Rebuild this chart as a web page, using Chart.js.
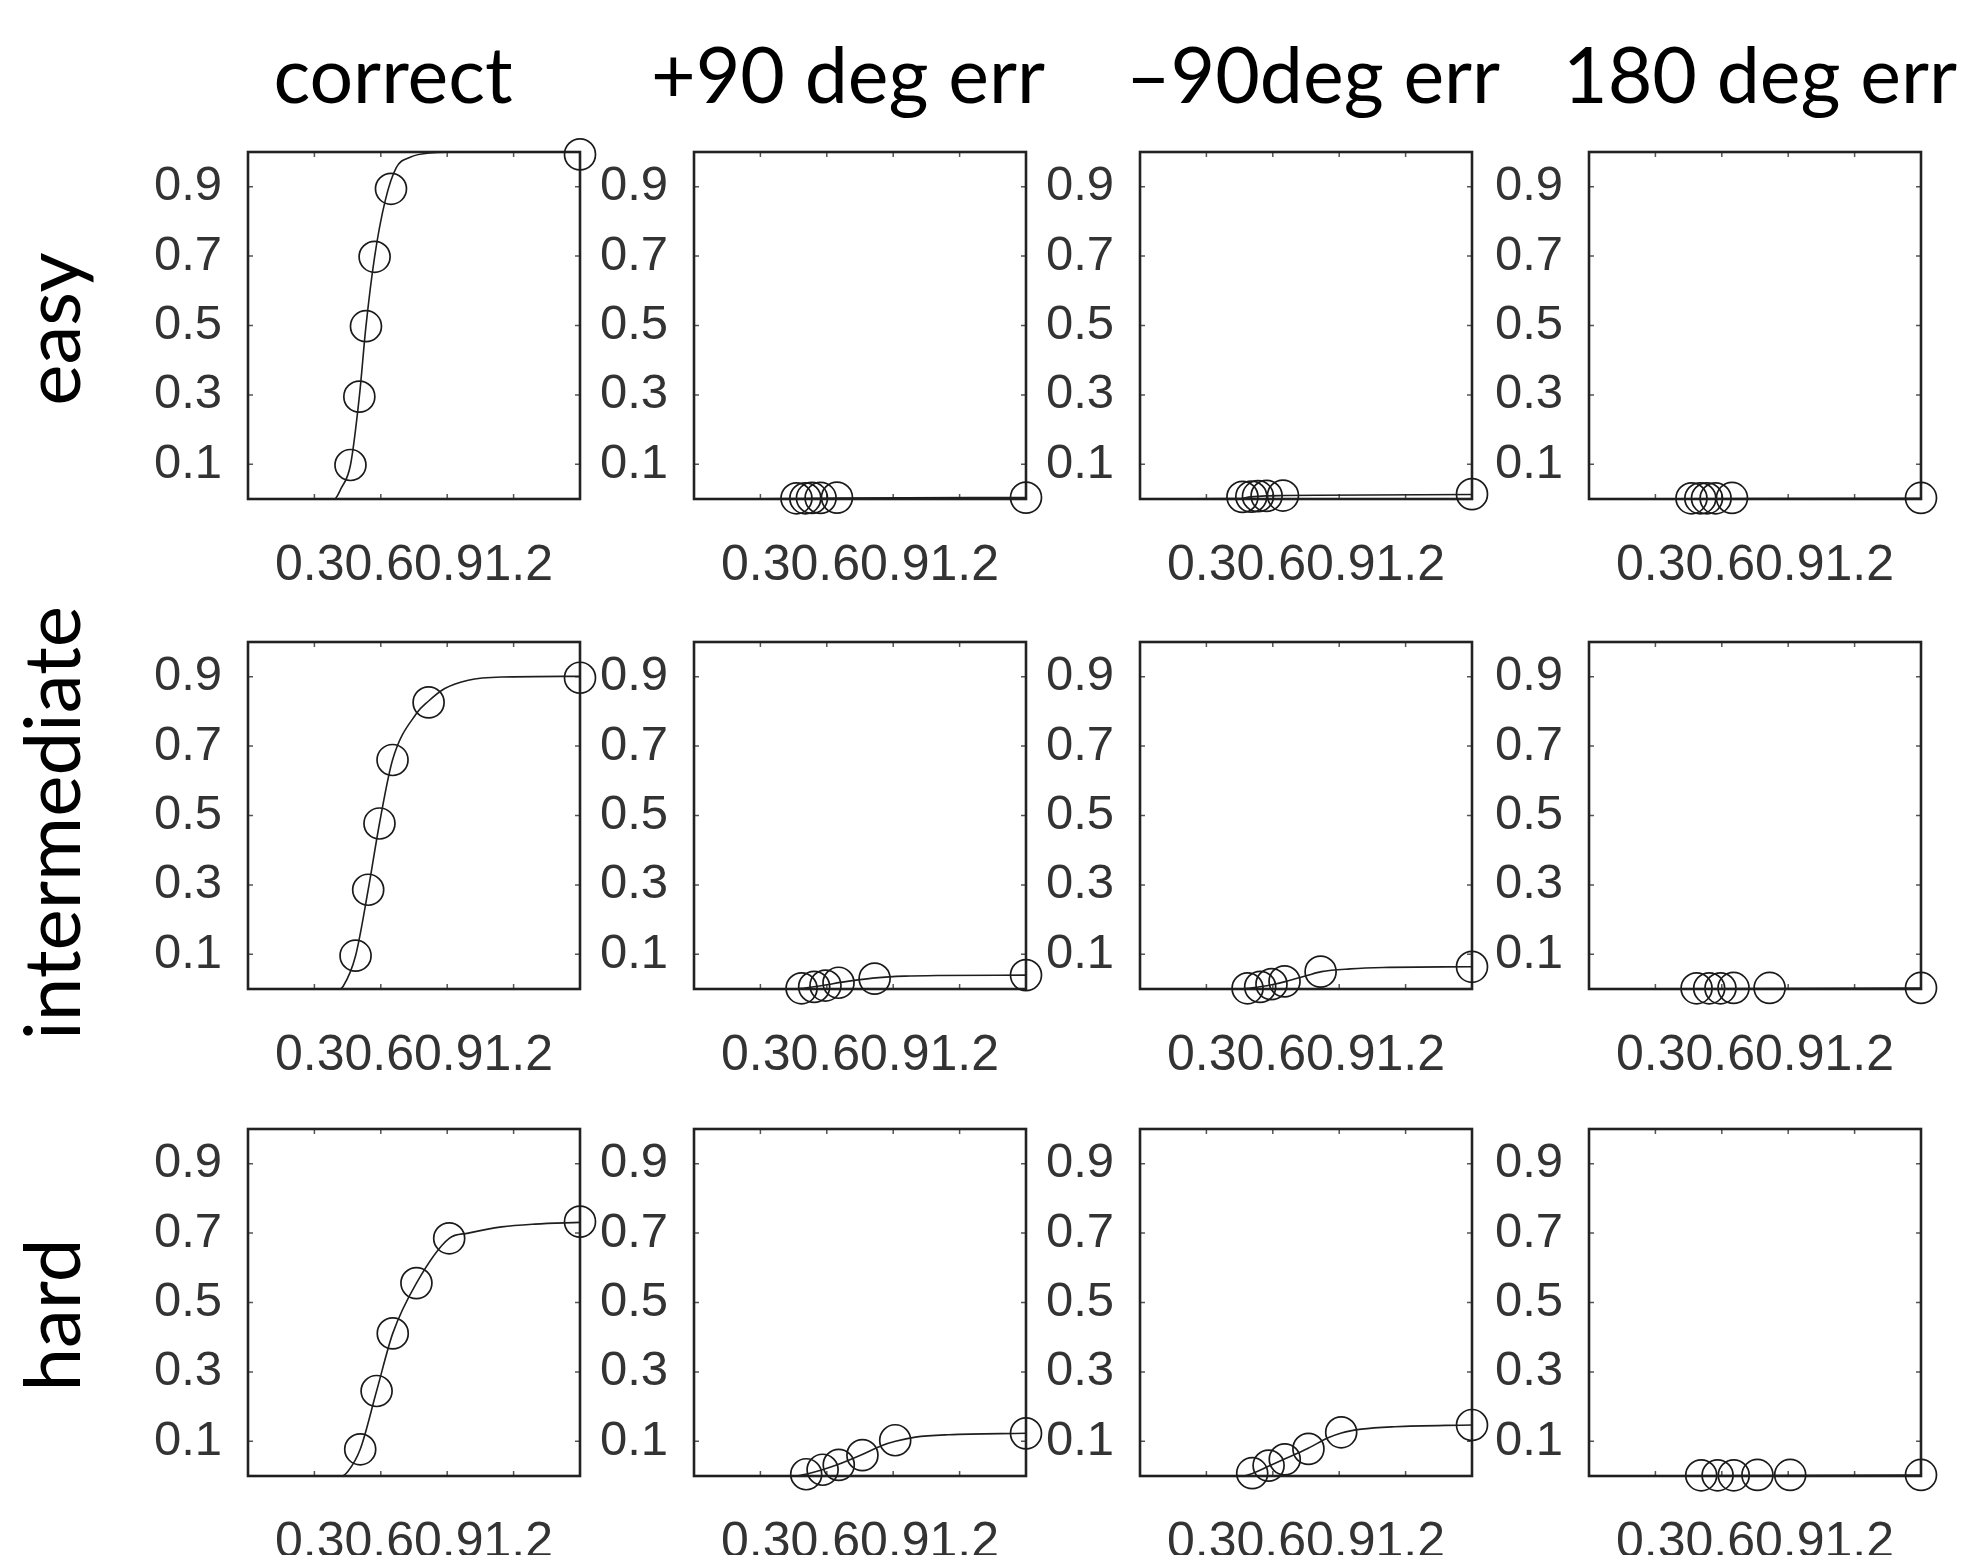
<!DOCTYPE html>
<html>
<head>
<meta charset="utf-8">
<script src="https://cdn.jsdelivr.net/npm/chart.js@4.4.1/dist/chart.umd.min.js"></script>
<style>
  body { margin: 0; background: #fff; }
  #page { position: relative; width: 1967px; height: 1555px; overflow: hidden; background: #fff; }
  .colTitle { position: absolute; width: 600px; text-align: center; white-space: nowrap;
    font-family: Lato, "Open Sans", sans-serif; font-size: 77px; line-height: 77px; color: #000; }
  .rowLabel { position: absolute; width: 600px; text-align: center; white-space: nowrap;
    font-family: Lato, "Open Sans", sans-serif; font-size: 78px; line-height: 78px; color: #000;
    transform: translate(-50%, -50%) rotate(-90deg); }
  canvas { position: absolute; }
</style>
</head>
<body>
<div id="page"></div>
<script>
// labels
const columnTitles = ['correct', '+90 deg err', '\u201390deg err', '180 deg err'];
const rowLabels = ['easy', 'intermediate', 'hard'];
const yTicks = [0.1, 0.3, 0.5, 0.7, 0.9];
const yTickLabels = ['0.1', '0.3', '0.5', '0.7', '0.9'];
const xTicks = [0.3, 0.6, 0.9, 1.2];
const xTickLabels = ['0.3', '0.6', '0.9', '1.2'];

// stimulus levels (same in every column of a row)
const easyX = [0.463, 0.503, 0.533, 0.572, 0.646, 1.5];
const intermediateX = [0.486, 0.543, 0.594, 0.653, 0.816, 1.5];
const hardX = [0.507, 0.581, 0.654, 0.761, 0.909, 1.5];

// observed proportions
const easyCorrect = [0.098, 0.295, 0.498, 0.698, 0.894, 0.993];
const easyPlus90 = [0.002, 0.002, 0.003, 0.003, 0.004, 0.004];
const easyMinus90 = [0.006, 0.007, 0.008, 0.009, 0.010, 0.014];
const easy180 = [0.002, 0.002, 0.002, 0.002, 0.003, 0.003];

const intermediateCorrect = [0.096, 0.286, 0.477, 0.660, 0.826, 0.897];
const intermediatePlus90 = [0.002, 0.006, 0.010, 0.018, 0.030, 0.040];
const intermediateMinus90 = [0.002, 0.006, 0.014, 0.022, 0.050, 0.064];
const intermediate180 = [0.002, 0.002, 0.002, 0.003, 0.003, 0.003];

const hardCorrect = [0.077, 0.245, 0.411, 0.556, 0.685, 0.733];
const hardPlus90 = [0.005, 0.018, 0.032, 0.060, 0.103, 0.123];
const hardMinus90 = [0.008, 0.030, 0.048, 0.078, 0.126, 0.147];
const hard180 = [0.002, 0.002, 0.002, 0.003, 0.003, 0.003];

// fitted curves
const easyCorrectFitX = [0, 0.39, 0.42, 0.463, 0.503, 0.533, 0.572, 0.62, 0.67, 0.73, 0.82, 1.0, 1.5];
const easyCorrectFitY = [0, 0, 0.03, 0.098, 0.295, 0.498, 0.698, 0.86, 0.955, 0.984, 0.997, 1.0, 1.0];
const easyPlus90FitX = [0, 0.45, 0.65, 1.5];
const easyPlus90FitY = [0, 0.001, 0.003, 0.004];
const easyMinus90FitX = [0, 0.44, 0.5, 0.57, 0.65, 0.8, 1.5];
const easyMinus90FitY = [0, 0.001, 0.006, 0.009, 0.010, 0.011, 0.013];
const easy180FitX = [0, 1.5];
const easy180FitY = [0, 0.002];

const intermediateCorrectFitX = [0, 0.415, 0.43, 0.486, 0.543, 0.594, 0.653, 0.761, 0.816, 0.889, 0.995, 1.146, 1.5];
const intermediateCorrectFitY = [0, 0, 0.008, 0.096, 0.286, 0.477, 0.660, 0.794, 0.83, 0.866, 0.890, 0.899, 0.901];
const intermediatePlus90FitX = [0, 0.45, 0.5, 0.55, 0.6, 0.66, 0.75, 0.82, 0.95, 1.1, 1.5];
const intermediatePlus90FitY = [0, 0, 0.003, 0.007, 0.012, 0.019, 0.027, 0.032, 0.037, 0.039, 0.040];
const intermediateMinus90FitX = [0, 0.45, 0.5, 0.55, 0.6, 0.66, 0.75, 0.82, 0.95, 1.1, 1.5];
const intermediateMinus90FitY = [0, 0, 0.003, 0.007, 0.013, 0.022, 0.038, 0.050, 0.058, 0.062, 0.064];
const intermediate180FitX = [0, 1.5];
const intermediate180FitY = [0, 0.003];

const hardCorrectFitX = [0, 0.422, 0.452, 0.507, 0.581, 0.654, 0.761, 0.909, 0.995, 1.146, 1.296, 1.5];
const hardCorrectFitY = [0, 0, 0.014, 0.077, 0.245, 0.411, 0.556, 0.685, 0.700, 0.718, 0.726, 0.731];
const hardPlus90FitX = [0, 0.46, 0.51, 0.58, 0.65, 0.76, 0.85, 0.91, 1.0, 1.15, 1.5];
const hardPlus90FitY = [0, 0, 0.006, 0.018, 0.033, 0.062, 0.088, 0.100, 0.112, 0.119, 0.123];
const hardMinus90FitX = [0, 0.46, 0.51, 0.58, 0.65, 0.76, 0.85, 0.91, 1.0, 1.15, 1.5];
const hardMinus90FitY = [0, 0, 0.008, 0.028, 0.048, 0.080, 0.110, 0.124, 0.135, 0.142, 0.147];
const hard180FitX = [0, 1.5];
const hard180FitY = [0, 0.003];

const rowX = [easyX, intermediateX, hardX];
const rowY = [
  [easyCorrect, easyPlus90, easyMinus90, easy180],
  [intermediateCorrect, intermediatePlus90, intermediateMinus90, intermediate180],
  [hardCorrect, hardPlus90, hardMinus90, hard180]
];
const rowFitX = [
  [easyCorrectFitX, easyPlus90FitX, easyMinus90FitX, easy180FitX],
  [intermediateCorrectFitX, intermediatePlus90FitX, intermediateMinus90FitX, intermediate180FitX],
  [hardCorrectFitX, hardPlus90FitX, hardMinus90FitX, hard180FitX]
];
const rowFitY = [
  [easyCorrectFitY, easyPlus90FitY, easyMinus90FitY, easy180FitY],
  [intermediateCorrectFitY, intermediatePlus90FitY, intermediateMinus90FitY, intermediate180FitY],
  [hardCorrectFitY, hardPlus90FitY, hardMinus90FitY, hard180FitY]
];

// layout of the axes boxes
const boxLeft = [248, 694, 1140, 1589];
const boxTop = [152, 642, 1129];
const boxW = 332, boxH = 347;
const padL = 140, padT = 25, padR = 25, padB = 110;
const titleCenters = [393, 848, 1313, 1760];
const rowCenters = [329, 823, 1315];

const page = document.getElementById('page');

columnTitles.forEach((t, i) => {
  const d = document.createElement('div');
  d.className = 'colTitle';
  d.textContent = t;
  d.style.left = (titleCenters[i] - 300) + 'px';
  d.style.top = '35px';
  page.appendChild(d);
});

rowLabels.forEach((t, i) => {
  const d = document.createElement('div');
  d.className = 'rowLabel';
  d.textContent = t;
  d.style.left = '50px';
  d.style.top = rowCenters[i] + 'px';
  page.appendChild(d);
});

// matlab style box with inward ticks
const boxPlugin = {
  id: 'matlabBox',
  beforeDatasetsDraw(chart) {
    const {ctx, chartArea: a, scales: {x, y}} = chart;
    ctx.save();
    ctx.strokeStyle = '#555';
    ctx.lineWidth = 1.5;
    ctx.beginPath();
    xTicks.forEach(v => {
      const px = x.getPixelForValue(v);
      ctx.moveTo(px, a.bottom); ctx.lineTo(px, a.bottom - 5);
      ctx.moveTo(px, a.top); ctx.lineTo(px, a.top + 5);
    });
    yTicks.forEach(v => {
      const py = y.getPixelForValue(v);
      ctx.moveTo(a.left, py); ctx.lineTo(a.left + 5, py);
      ctx.moveTo(a.right, py); ctx.lineTo(a.right - 5, py);
    });
    ctx.stroke();
    ctx.strokeStyle = '#222';
    ctx.lineWidth = 2.6;
    ctx.strokeRect(a.left, a.top, a.width, a.height);
    ctx.restore();
  }
};

function makePanel(r, c) {
  const cv = document.createElement('canvas');
  const w = padL + boxW + padR, h = padT + boxH + padB;
  cv.width = w; cv.height = h;
  cv.style.width = w + 'px'; cv.style.height = h + 'px';
  cv.style.left = (boxLeft[c] - padL) + 'px';
  cv.style.top = (boxTop[r] - padT) + 'px';
  page.appendChild(cv);

  const pts = rowX[r].map((x, i) => ({x: x, y: rowY[r][c][i]}));
  const fit = rowFitX[r][c].map((x, i) => ({x: x, y: rowFitY[r][c][i]}));

  new Chart(cv.getContext('2d'), {
    type: 'scatter',
    data: {
      datasets: [
        {
          data: fit,
          showLine: true,
          borderColor: '#1e1e1e',
          borderWidth: 1.6,
          pointRadius: 0,
          cubicInterpolationMode: 'monotone',
          clip: false
        },
        {
          data: pts,
          showLine: false,
          pointStyle: 'circle',
          pointRadius: 15.5,
          pointBorderWidth: 1.7,
          pointBorderColor: '#1a1a1a',
          pointBackgroundColor: 'rgba(0,0,0,0)',
          clip: false
        }
      ]
    },
    options: {
      responsive: false,
      animation: false,
      events: [],
      layout: { padding: { left: 0, top: padT, right: padR, bottom: 0 } },
      plugins: { legend: { display: false }, tooltip: { enabled: false } },
      scales: {
        x: {
          type: 'linear', min: 0, max: 1.5,
          grid: { display: false, drawTicks: false },
          border: { display: false },
          ticks: { display: false },
          title: {
            display: true,
            text: xTickLabels.join(''),
            color: '#333',
            font: { family: '"Liberation Sans", Arial, sans-serif', size: 50 },
            padding: { top: 0, bottom: 13 }
          },
          afterFit: s => { s.height = padB; s.paddingLeft = 0; s.paddingRight = 0; }
        },
        y: {
          type: 'linear', min: 0, max: 1,
          grid: { display: false, drawTicks: false },
          border: { display: false },
          afterBuildTicks: s => { s.ticks = yTicks.map(v => ({value: v})); },
          ticks: {
            color: '#333',
            padding: 26,
            font: { family: '"Liberation Sans", Arial, sans-serif', size: 49 },
            callback: (v, i) => yTickLabels[i]
          },
          afterFit: s => { s.width = padL; s.paddingTop = 0; s.paddingBottom = 0; }
        }
      }
    },
    plugins: [boxPlugin]
  });
}

for (let r = 0; r < 3; r++) {
  for (let c = 0; c < 4; c++) makePanel(r, c);
}
</script>
</body>
</html>
